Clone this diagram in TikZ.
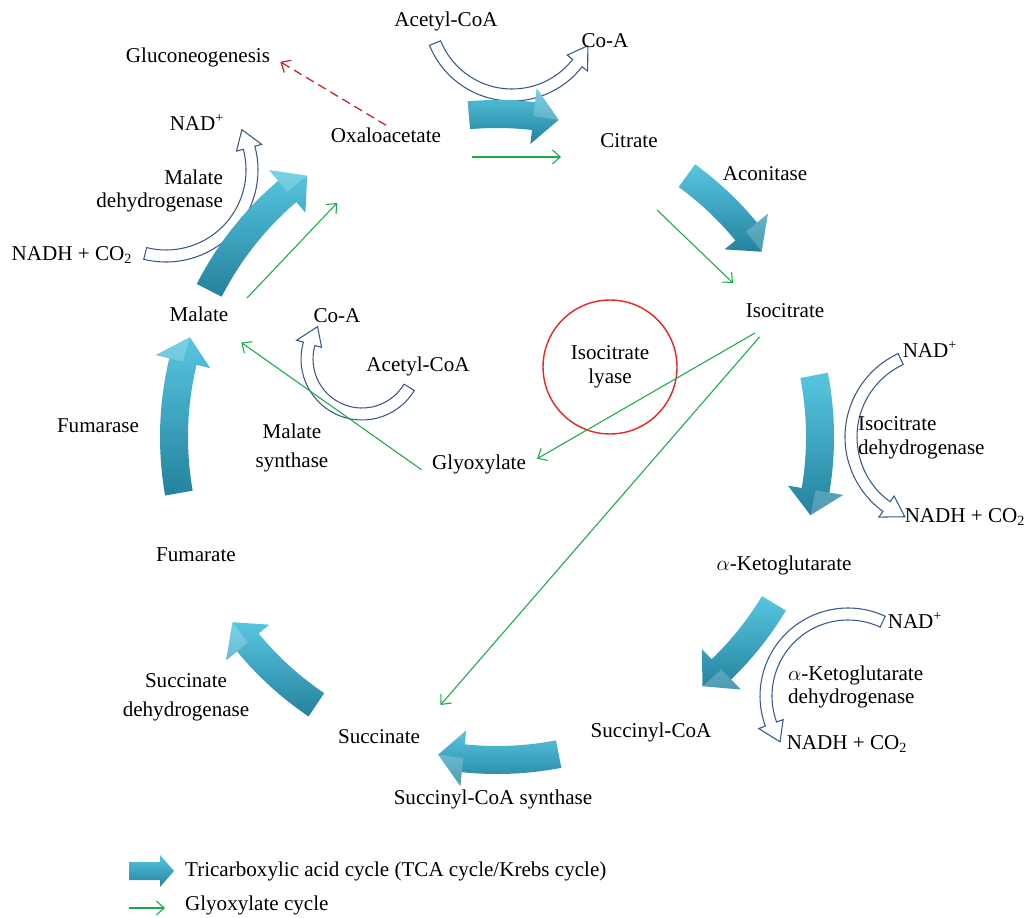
\documentclass[tikz,border=0pt]{standalone}
\usepackage{fontspec}
\setmainfont{Liberation Serif}
\usetikzlibrary{arrows.meta}
\usetikzlibrary{positioning}

\definecolor{tcalight}{RGB}{88,198,224}
\definecolor{tcadark}{RGB}{36,130,158}
\definecolor{cofblue}{RGB}{56,88,140}
\definecolor{glyoxgreen}{RGB}{24,172,72}
\definecolor{gluconred}{RGB}{200,30,40}
\definecolor{lyasered}{RGB}{232,40,40}

% fat TCA arrow on the big cycle: tail angle, head base angle, tip angle
\newcommand{\tcaarrow}[3]{%
  \begin{scope}[shift={(497,480)}]
    \shade[tca] (#1:337) arc[start angle=#1, end angle=#2, radius=337]
      -- (#2:351) -- (#3:323) -- (#2:295) -- (#2:309)
      arc[start angle=#2, end angle=#1, radius=309] -- cycle;
    \fill[white, opacity=.2] (#2:351) -- (#3:323) -- (#2:323) -- cycle;
  \end{scope}}

% hollow cofactor arrow: centre, radius, tail angle, head base angle, tip angle
\newcommand{\cofarrow}[5]{%
  \begin{scope}[shift={#1}]
    \pgfmathsetmacro{\cofout}{#2+6}\pgfmathsetmacro{\cofin}{#2-6}
    \pgfmathsetmacro{\cofhout}{#2+13}\pgfmathsetmacro{\cofhin}{#2-13}
    \draw[cof] (#3:\cofout) arc[start angle=#3, end angle=#4, radius=\cofout]
      -- (#4:\cofhout) -- (#5:#2) -- (#4:\cofhin) -- (#4:\cofin)
      arc[start angle=#4, end angle=#3, radius=\cofin] -- cycle;
  \end{scope}}

\begin{document}
\begin{tikzpicture}[x=0.02cm, y=0.02cm, font=\fontsize{12}{13.6}\selectfont,
    lbl/.style={inner sep=1pt, text height=8.5pt, text depth=2.5pt},
    lbltwo/.style={inner sep=1pt},
    lyase/.style={circle, draw=lyasered, line width=0.8pt, minimum size=2.68cm,
                  align=center, inner sep=0pt},
    tca/.style={top color=tcalight, bottom color=tcadark},
    cof/.style={draw=cofblue, fill=white, line width=0.6pt},
    glyox/.style={draw=glyoxgreen, line width=0.6pt,
                  -{Straight Barb[length=4.5pt, width=8pt]}},
    glucon/.style={draw=gluconred, line width=0.7pt, dash pattern=on 5pt off 3pt,
                   -{Straight Barb[length=4.5pt, width=8pt]}}]

  \useasboundingbox (0,0) rectangle (1026,917);

  % cofactor arrows
  \cofarrow{(512,905)}{83}{202}{322}{336}
  \cofarrow{(166,747)}{86}{256}{375}{388}
  \cofarrow{(362,558)}{55}{-31}{-196}{-216}
  \cofarrow{(937,480)}{86}{115}{234}{248}
  \cofarrow{(848,221)}{82}{65}{200}{214}

  % TCA cycle
  \tcaarrow{95}{83.5}{79}
  \tcaarrow{54}{39.5}{35}
  \tcaarrow{11}{-9.5}{-14}
  \tcaarrow{-31}{-46}{-50.5}
  \tcaarrow{-79}{-96}{-100.5}
  \tcaarrow{-124}{-140.5}{-145}
  \tcaarrow{-170}{-193.5}{-198}
  \tcaarrow{153}{130.5}{126}

  % metabolites
  \node[lbl]                     (acetylA)    at (446,896) {Acetyl-CoA};
  \node[lbl]                     (coaA)       at (605,875) {Co-A};
  \node[lbl]                     (glucon)     at (198,860) {Gluconeogenesis};
  \node[lbl]                     (oxalo)      at (386,780) {Oxaloacetate};
  \node[lbl]                     (citrate)    at (629,775) {Citrate};
  \node[lbl]                     (isocitrate) at (785,605) {Isocitrate};
  \node[lbl]                     (malate)     at (199,601) {Malate};
  \node[lbl]                     (coaB)       at (337,600) {Co-A};
  \node[lbl]                     (acetylB)    at (418,551) {Acetyl-CoA};
  \node[lbl]                     (glyox)      at (479,453) {Glyoxylate};
  \node[lbl]                     (fumarate)   at (196,361) {Fumarate};
  \node[lbl]                     (akg)        at (784,352) {$\alpha$-Ketoglutarate};
  \node[lbl]                     (succinate)  at (379,179) {Succinate};
  \node[lbl]                     (succoa)     at (651,185) {Succinyl-CoA};

  % cofactors
  \node[lbl]                     (nadA)       at (197,792) {NAD\textsuperscript{+}};
  \node[lbl]                     (nadhA)      at (72,662)  {NADH + CO\textsubscript{2}};
  \node[lbl]                     (nadB)       at (930,565) {NAD\textsuperscript{+}};
  \node[lbl]                     (nadhB)      at (965,400) {NADH + CO\textsubscript{2}};
  \node[lbl]                     (nadC)       at (915,294) {NAD\textsuperscript{+}};
  \node[lbl]                     (nadhC)      at (847,173) {NADH + CO\textsubscript{2}};

  % enzymes
  \node[lbl]                     (aconitase)  at (765,742) {Aconitase};
  \node[lbltwo, align=right, anchor=east] (malatedh) at (225,726) {Malate\\dehydrogenase};
  \node[lyase]                   (lyase)      at (610,550) {Isocitrate\\lyase};
  \node[lbltwo, align=left, anchor=west]  (isodh)    at (856,479) {Isocitrate\\dehydrogenase};
  \node[lbl]                     (fumarase)   at (98,490)  {Fumarase};
  \node[lbltwo, align=center]    (malsyn)     at (292,469) {Malate\\[3pt]synthase};
  \node[lbltwo, align=left, anchor=west]  (akgdh)    at (786,230) {$\alpha$-Ketoglutarate\\dehydrogenase};
  \node[lbltwo, align=center]    (sucdh)      at (186,220) {Succinate\\[3pt]dehydrogenase};
  \node[lbl]                     (scs)        at (493,118) {Succinyl-CoA synthase};

  % glyoxylate cycle
  \coordinate (oxcitA)  at (472,760);
  \coordinate (oxcitB)  at (561,760);
  \coordinate (citisoA) at (657,707);
  \coordinate (citisoB) at (733,634);
  \coordinate (maloxA)  at (247,619);
  \coordinate (maloxB)  at (337,714);

  \draw[glyox] (oxcitA) -- (oxcitB);
  \draw[glyox] (citisoA) -- (citisoB);
  \draw[glyox] (maloxA) -- (maloxB);
  \draw[glyox, shorten <=10.5pt, shorten >=6pt] ([xshift=-8pt]isocitrate.south) -- (glyox.east);
  \draw[glyox, shorten <=10pt, shorten >=16pt] ([xshift=-8pt]isocitrate.south) -- (succinate.north east);
  \draw[glyox, shorten <=6pt, shorten >=7.6pt] (glyox.south west) -- ([yshift=-4pt]malate.south east);
  \draw[glucon, shorten >=5.4pt] (oxalo.north) -- (glucon.east);

  % legend
  \shade[tca] (129,37) -- (160,37) -- (160,30) -- (174,46) -- (160,62)
    -- (160,55) -- (129,55) -- cycle;
  \node[lbl, anchor=west] (legtca)   at (183,46) {Tricarboxylic acid cycle (TCA cycle/Krebs cycle)};
  \node[lbl, anchor=west] (legglyox) at (183,12) {Glyoxylate cycle};
  \coordinate (legA) at (129,9);
  \coordinate (legB) at (165,9);
  \draw[glyox] (legA) -- (legB);

\end{tikzpicture}
\end{document}
